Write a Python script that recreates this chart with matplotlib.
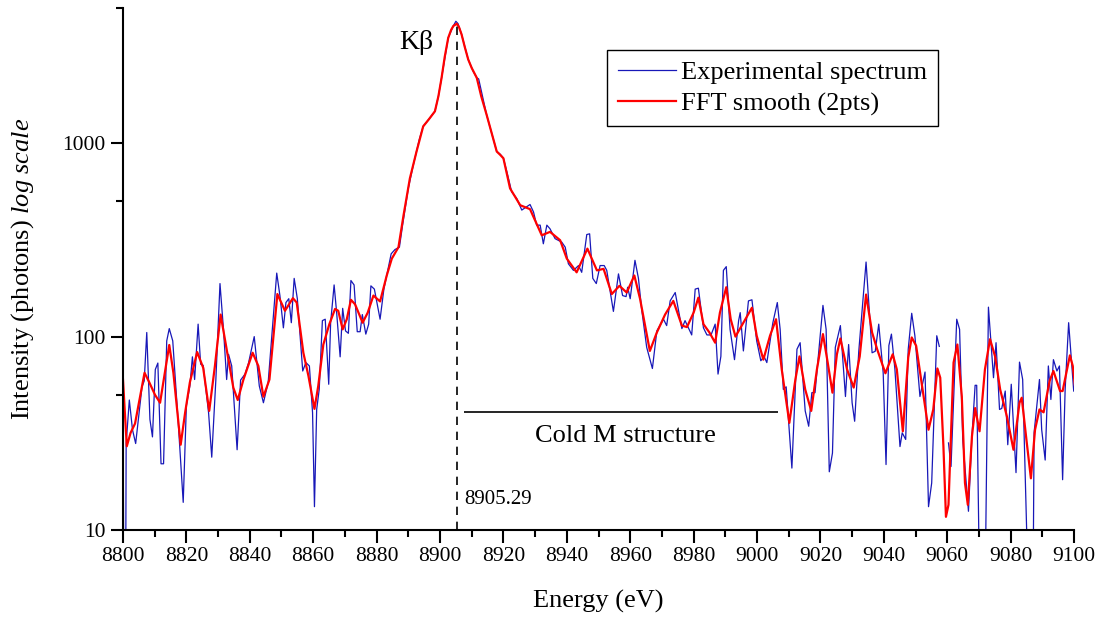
import numpy as np
import matplotlib.pyplot as plt
from matplotlib.ticker import FixedLocator, NullFormatter, FixedFormatter

# experimental spectrum (eV, photons); NaN = missing point on log scale
energy_exp = [8800, 8800.3, 8800.8, 8801, 8802, 8803, 8804, 8804.7, 8806, 8806.7,
              8807.5, 8808.5, 8809.3, 8810.2, 8811, 8812, 8812.8, 8813.8, 8814.6, 8815.7,
              8817.5, 8819, 8820, 8821.1, 8821.9, 8822.6, 8823.7, 8824.5, 8825.3, 8827,
              8828, 8829.3, 8830.6, 8831.7, 8832.7, 8833.3, 8834.3, 8836, 8837.1, 8838.5,
              8839.6, 8841.4, 8843, 8844.3, 8845.8, 8848.5, 8849.5, 8850.6, 8851.4, 8852.3,
              8853.1, 8854, 8855, 8856.7, 8857.7, 8858.8, 8859.8, 8860.4, 8861.1, 8861.9,
              8862.9, 8863.8, 8864.9, 8865.5, 8866.6, 8867.4, 8868.5, 8869.3, 8870.2, 8871.1,
              8871.9, 8872.9, 8873.9, 8874.8, 8875.5, 8876.6, 8877.5, 8878.2, 8879.3, 8881.1,
              8882.3, 8884.6, 8885.8, 8887.2, 8888.2, 8890, 8891.5, 8892.6, 8893.5, 8894.7,
              8896.5, 8898.4, 8899.5, 8900.5, 8902.6, 8904.2, 8905.0, 8905.7, 8906.8, 8908.9,
              8910.5, 8911.6, 8912.2, 8914.7, 8916.5, 8917.9, 8919, 8920, 8921.2, 8922.6,
              8924.2, 8925.8, 8926.8, 8928.4, 8929.5, 8930.5, 8931.6, 8932.6, 8933.7, 8934.7,
              8936.3, 8938.4, 8939.5, 8940.5, 8942.1, 8943.7, 8944.7, 8946.3, 8947.2, 8948.2,
              8949.3, 8950.5, 8951.8, 8952.6, 8954.7, 8956.3, 8957.6, 8958.7, 8959.2, 8960,
              8961.5, 8962.6, 8963.6, 8965.2, 8967, 8968.4, 8970.5, 8971.5, 8972.6, 8974.2,
              8976.3, 8977.3, 8979.4, 8980.5, 8981.5, 8983.1, 8984.2, 8985.5, 8986.8, 8987.7,
              8988.6, 8989.4, 8990.3, 8991.5, 8992.9, 8994.2, 8994.7, 8995.7, 8997.3, 8998.4,
              8999.9, 9001.2, 9002.2, 9003.1, 9005, 9006.4, 9007.3, 9008.3, 9009.2, 9011,
              9012.6, 9013.6, 9015.2, 9016.3, 9017.3, 9018.3, 9020.8, 9021.8, 9022.8, 9023.8,
              9024.7, 9026.3, 9027.9, 9028.9, 9030, 9030.8, 9032.1, 9034.4, 9036.3, 9037.3,
              9038.4, 9039.8, 9040.7, 9041.6, 9042.4, 9043.5, 9045.1, 9045.8, 9046.9, 9047.7,
              9048.8, 9049.8, 9051.4, 9053, 9054.1, 9055.1, 9056.7, 9057.5, 9058.5, 9060.4,
              9061.2, 9063, 9063.9, 9064.9, 9066.7, 9067.8, 9068.8, 9069.3, 9070.4, 9071.8,
              9073, 9074.6, 9075.4, 9076.5, 9077.2, 9078.3, 9079.1, 9080.2, 9081.7, 9082.8,
              9083.8, 9085.9, 9087, 9087.4, 9089.1, 9089.8, 9090.9, 9091.9, 9092.7, 9093.5,
              9094.6, 9095.4, 9096.4, 9097.2, 9098.3, 9099, 9099.9]
counts_exp = [55, 3, 3, 28, 47, 33, 28, 35.5, 55, 59,
              105, 37.3, 30.3, 67.6, 73, 22, 22, 95, 110, 95,
              34.4, 13.9, 44, 55.6, 78.6, 60, 116, 72, 71, 40.4,
              23.8, 60, 188, 109, 60, 81, 70.5, 26, 59.6, 64,
              73, 100, 55.6, 45.5, 58, 213, 163, 111, 150, 157,
              118, 200, 157, 66.4, 73.4, 70.5, 40.4, 13.2, 42, 53.3,
              121, 123, 56.7, 118, 185, 133, 78.6, 140, 107, 104,
              195, 185, 106, 106, 130, 103, 116, 183, 176, 123,
              176, 268, 282, 290, 377, 584, 760, 906, 1050, 1222,
              1330, 1462, 1750, 2178, 3508, 4036, 4270, 4150, 3656, 2710,
              2350, 2178, 2150, 1404, 1100, 906, 877, 836, 700, 561,
              518, 451, 463, 482, 441, 377, 377, 302, 377, 361,
              321, 308, 290, 238, 220, 233, 215, 337, 340, 200,
              188, 233, 233, 220, 135, 211, 163, 161, 180, 157,
              248, 200, 139, 88, 68.4, 107, 123, 114, 153, 169,
              110, 121, 102, 176, 178, 111, 102, 102, 116, 64,
              79, 220, 230, 109, 76, 121, 133, 84.3, 153, 155,
              95, 75, 79, 73.4, 118, 150, 109, 53.3, 55, 20.9,
              86, 93, 41.3, 34.4, 51.3, 51.3, 145, 109, 20, 25,
              88, 114, 49, 91, 45.5, 36.5, 84, 243, 82.5, 84,
              116, 65, 21.8, 90, 103, 67.7, 27, 31.8, 29.4, 86,
              132, 101, 49, 65.6, 13.2, 17.5, 101, 89, np.nan, 28.2,
              21.3, 123, 109, 29.4, 12.5, 30.5, 56, 56, 3, 3,
              142, 61.3, 93, 42, 42.5, 52.3, 27.6, 56.7, 19.8, 73.8,
              60, 3, 3, 31.8, 60, 33, 23, 70.5, 47.3, 76,
              66.4, 70.5, 18.2, 53.3, 118, 82.5, 52.3]

# FFT smoothed curve
energy_fft = [8800, 8801.2, 8802.4, 8803.8, 8805.4, 8806.8, 8808.3, 8810.1, 8811.7, 8813.2,
              8814.6, 8815.9, 8818.2, 8819.6, 8821.1, 8823.4, 8825.3, 8827.2, 8829, 8830.8,
              8832.7, 8834.8, 8836.2, 8838, 8840.9, 8842.7, 8844.3, 8846.2, 8848.7, 8851.1,
              8853.6, 8854.8, 8856.9, 8858.5, 8860.4, 8861.6, 8863.2, 8865.1, 8866.9, 8867.9,
              8869.3, 8870.6, 8871.9, 8873.2, 8875.6, 8877.2, 8879, 8881.1, 8883.2, 8884.8,
              8886.9, 8888.5, 8890.5, 8892.6, 8894.7, 8896.5, 8898.4, 8899.5, 8900.5, 8901.5,
              8902.6, 8903.5, 8904.2, 8905.3, 8906, 8906.8, 8907.8, 8908.9, 8910, 8911.6,
              8913, 8914.7, 8916.3, 8917.9, 8919, 8920, 8922.1, 8925.3, 8928.4,
              8932.1, 8934.7, 8937.9, 8940, 8943.1, 8946.5, 8949.5, 8951.6, 8954.2, 8956.6,
              8958.9, 8961.3, 8963.1, 8966.2, 8968.4, 8971, 8973.6, 8976.3, 8977.9, 8980,
              8981.5, 8983.1, 8985, 8986.8, 8988.3, 8990.3, 8991.7, 8993.2, 8995.7, 8998.4,
              8999.9, 9002, 9004.1, 9006, 9007.8, 9010.2, 9012.1, 9013.4, 9015.2, 9017.1,
              9018.9, 9020.8, 9022.3, 9023.8, 9025.2, 9026.3, 9028.4, 9030.5, 9032.4, 9034.4,
              9036.3, 9037.9, 9040.5, 9042.8, 9044.1, 9046, 9047.7, 9048.8, 9050.2, 9051.9,
              9054.1, 9055.6, 9056.9, 9057.8, 9058.8, 9059.6, 9060.4, 9062, 9063.2, 9064.6,
              9065.6, 9066.5, 9067.8, 9068.8, 9070.2, 9071.9, 9073.5, 9075.1, 9076.7, 9078.8,
              9080.9, 9082.8, 9083.5, 9085.1, 9086.4, 9087.7, 9089.1, 9090.4, 9092.3, 9093.5,
              9095.6, 9096.4, 9098.7, 9099.6, 9100.3]
counts_fft = [60, 27.1, 31.8, 35.5, 49, 65, 58, 50, 45.5, 65,
              90.5, 65, 27.6, 40.4, 58, 83.2, 69, 41.3, 70.5, 130,
              86, 54.5, 47, 60, 82.5, 70.5, 48.9, 60, 166, 136,
              158, 150, 82.5, 62.6, 42.3, 55.6, 91, 116, 139, 136,
              109, 123, 155, 147, 118, 133, 163, 152, 207, 253,
              290, 424, 658, 906, 1222, 1330, 1462, 1750, 2178, 2800,
              3508, 3850, 4036, 4150, 3980, 3656, 3150, 2710, 2450, 2178,
              1750, 1404, 1130, 906, 870, 836, 584, 478, 456,
              334, 348, 315, 253, 215, 285, 220, 224, 166, 183,
              169, 207, 157, 84.3, 105, 130, 153, 114, 112, 133,
              159, 116, 105, 93, 133, 180, 123, 100, 118, 141,
              101, 76, 101, 123, 67.7, 35.8, 60, 79, 53.3, 41.3,
              67.7, 103, 73.4, 51.3, 81, 97.8, 67.7, 54.5, 79, 165,
              105, 86, 64.6, 81, 67.7, 32.4, 78, 99, 89.6, 58,
              33, 42, 68.4, 61.3, 27.1, 11.7, 13.5, 73.4, 91, 49,
              17.5, 13.5, 30.5, 42.7, 32.4, 67.7, 97, 79, 53.3, 38.8,
              26, 45.5, 48.3, 28.2, 18.5, 33, 42, 40.6, 59, 66.4,
              52.3, 52.3, 80, 70.5, 55.6]

kb_energy = 8905.29
kb_top = 4150
cold_m_start, cold_m_end, cold_m_level = 8907.6, 9006.6, 40.7

plt.rcParams['font.family'] = ['Liberation Serif', 'DejaVu Serif']
plt.rcParams['mathtext.fontset'] = 'custom'
plt.rcParams['mathtext.rm'] = 'Liberation Serif'
plt.rcParams['mathtext.it'] = 'Liberation Serif:italic'

fig = plt.figure(figsize=(11.01, 6.17), dpi=100)
ax = fig.add_axes([0.1117, 0.141, 0.8638, 0.846])

ax.plot(energy_exp, counts_exp, color='#1818b8', lw=0.9, label='Experimental spectrum')
ax.plot(energy_fft, counts_fft, color='#ff0000', lw=1.6, label='FFT smooth (2pts)')

ax.set_yscale('log')
ax.set_xlim(8800, 9100)
ax.set_ylim(10, 5000)

ax.vlines(kb_energy, 10, kb_top, colors='black', linestyles=(0, (5, 4)), lw=1.2)
ax.hlines(cold_m_level, cold_m_start, cold_m_end, colors='black', lw=1.2)
ax.text(8892.5, 3300, 'Kβ', fontsize=20, ha='center', va='center')
ax.text(kb_energy + 2.5, 14.3, '8905.29', fontsize=15, ha='left', va='center')
ax.text(8958.5, 30.5, 'Cold M structure', fontsize=19, ha='center', va='center')

for side in ['top', 'right']:
    ax.spines[side].set_visible(False)
for side in ['left', 'bottom']:
    ax.spines[side].set_linewidth(1.5)

ax.set_xticks(np.arange(8800, 9101, 20))
ax.set_xticks(np.arange(8810, 9100, 20), minor=True)
ax.yaxis.set_major_locator(FixedLocator([10, 100, 1000]))
ax.yaxis.set_major_formatter(FixedFormatter(['10', '100', '1000']))
ax.yaxis.set_minor_locator(FixedLocator([50, 500, 5000]))
ax.yaxis.set_minor_formatter(NullFormatter())
ax.tick_params(which='major', direction='out', length=9, width=1.5, labelsize=15.5)
ax.tick_params(which='minor', direction='out', length=5, width=1.5)

ax.set_xlabel('Energy (eV)', fontsize=19, labelpad=17)
ax.set_ylabel(r'Intensity (photons) $\mathit{log\ scale}$', fontsize=19, labelpad=19)

leg = ax.legend(loc='upper left', bbox_to_anchor=(0.509, 0.92), fontsize=19,
                frameon=True, fancybox=False, edgecolor='black', framealpha=1,
                handlelength=2.2, handletextpad=0.2, borderpad=0.4,
                labelspacing=0.3, borderaxespad=0)
leg.get_frame().set_linewidth(1.0)

fig.savefig('out.png', dpi=100)
